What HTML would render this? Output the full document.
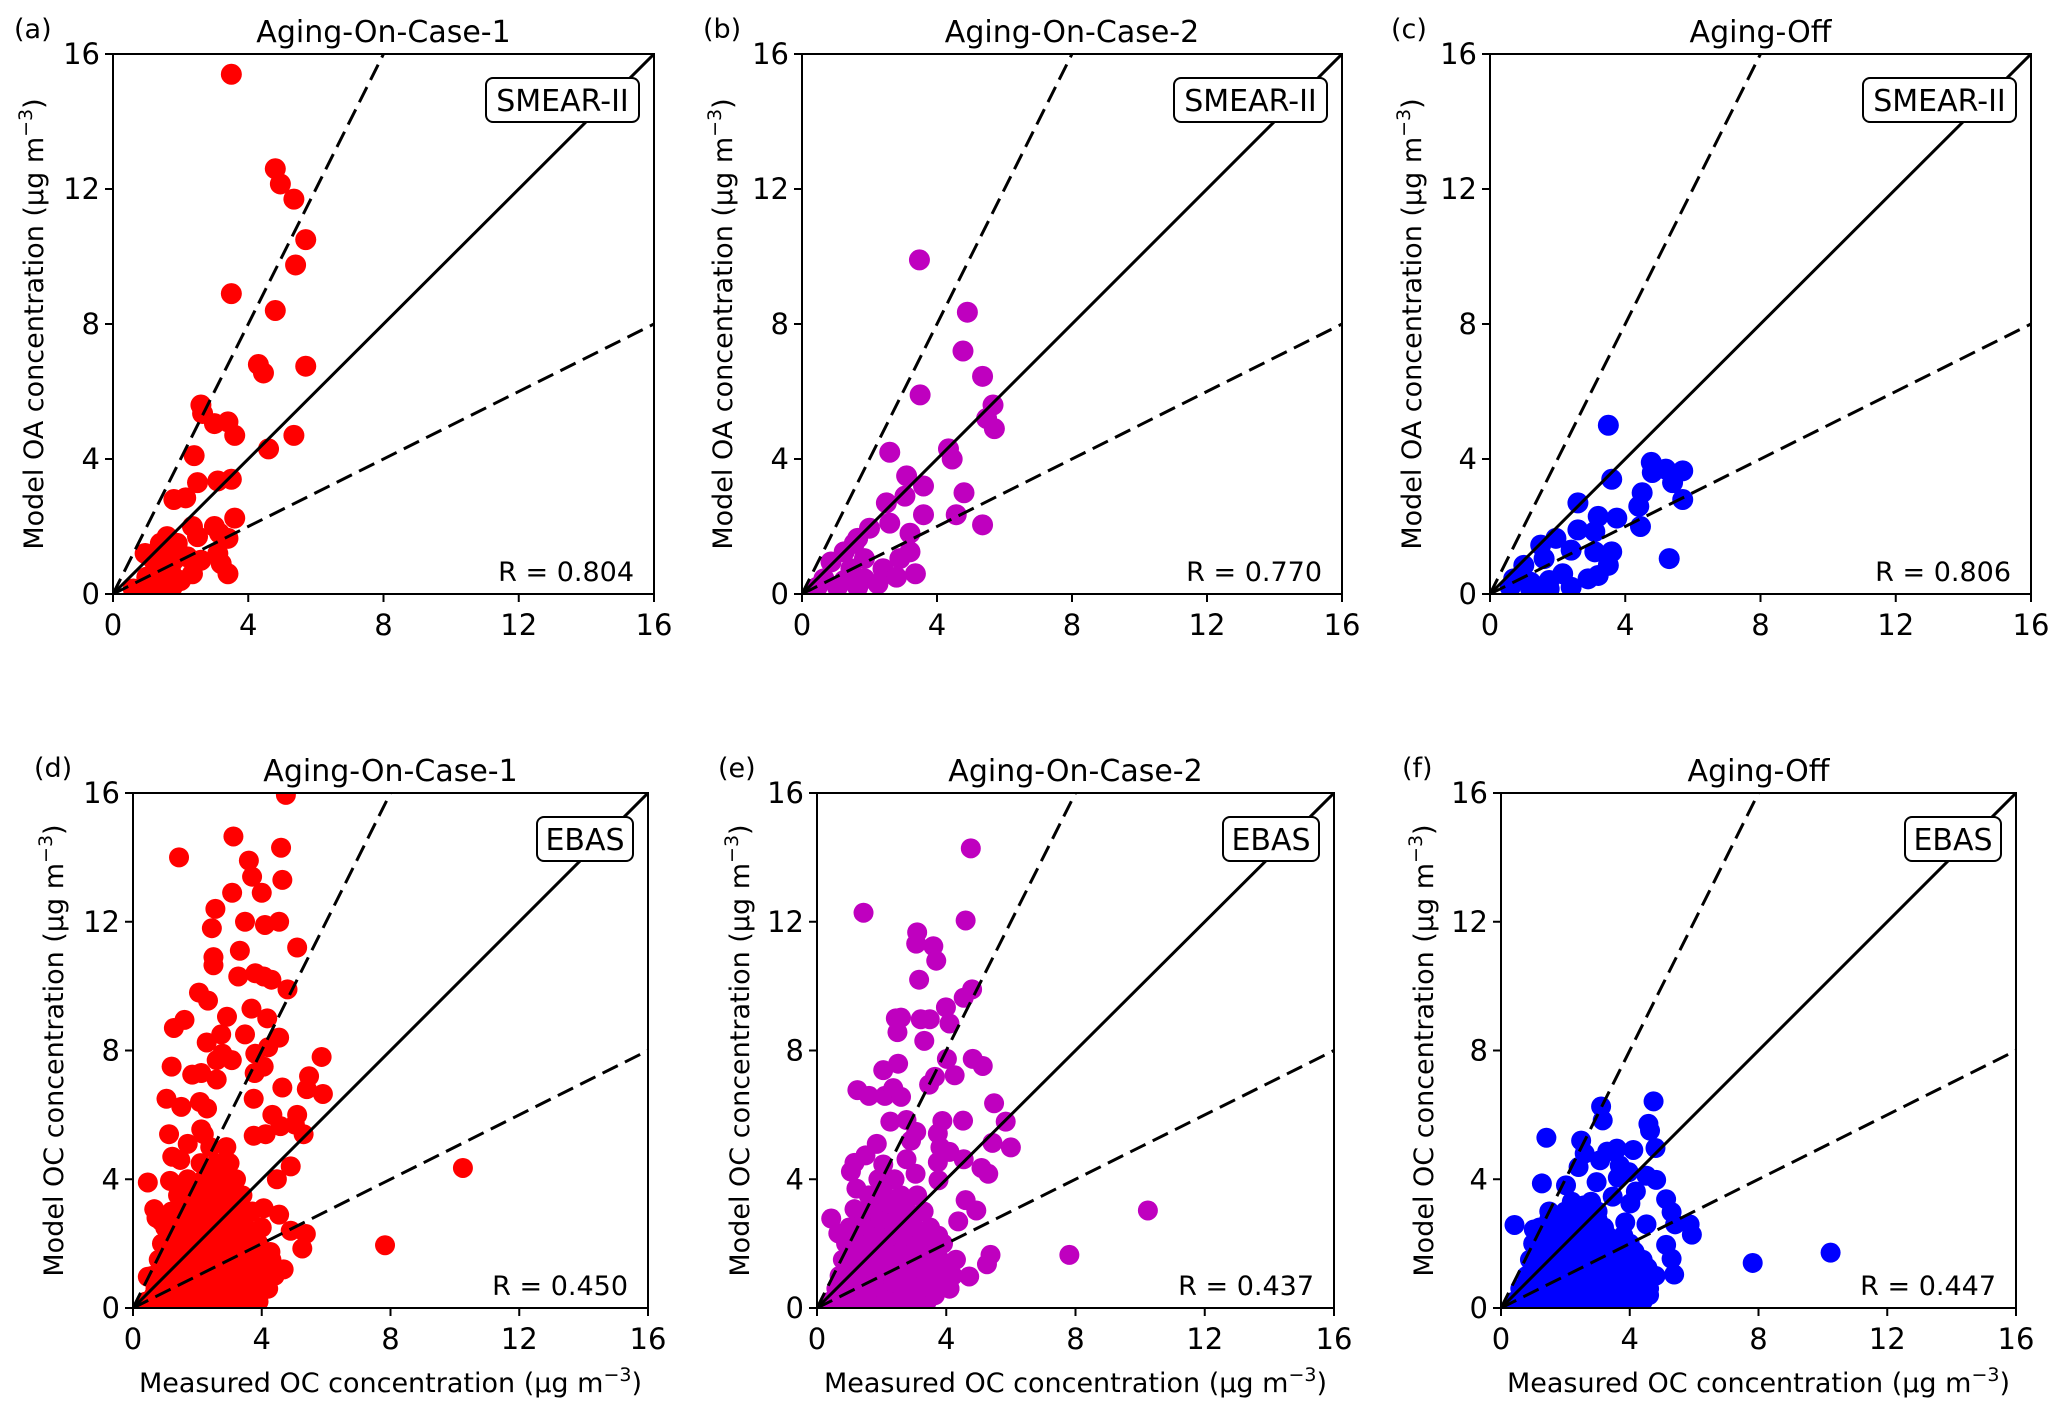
<!DOCTYPE html>
<html><head><meta charset="utf-8"><style>
html,body{margin:0;padding:0;background:#fff;}
svg{display:block;font-family:"DejaVu Sans","Liberation Sans",sans-serif;}
</style></head><body>
<svg id="fig" width="2067" height="1413" viewBox="0 0 2067 1413" xmlns="http://www.w3.org/2000/svg"></svg>
<script>
const ticks = [0, 4, 8, 12, 16];
const tickLabels = ["0", "4", "8", "12", "16"];
const titles = ["Aging-On-Case-1", "Aging-On-Case-2", "Aging-Off", "Aging-On-Case-1", "Aging-On-Case-2", "Aging-Off"];
const letters = ["(a)", "(b)", "(c)", "(d)", "(e)", "(f)"];
const stations = ["SMEAR-II", "SMEAR-II", "SMEAR-II", "EBAS", "EBAS", "EBAS"];
const rValues = ["0.804", "0.770", "0.806", "0.450", "0.437", "0.447"];
const ptsA = [[3.5,15.4],[4.8,12.6],[4.95,12.15],[5.35,11.7],[5.7,10.5],[5.4,9.75],[3.5,8.9],[4.8,8.4],[4.3,6.8],[4.45,6.55],[5.7,6.75],[2.6,5.6],[2.65,5.35],[3.0,5.05],[3.4,5.1],[3.6,4.7],[5.35,4.7],[4.6,4.3],[2.4,4.1],[2.5,3.3],[3.1,3.35],[3.5,3.4],[1.8,2.8],[2.15,2.85],[3.6,2.25],[2.35,2.0],[2.5,1.7],[3.0,2.0],[3.15,1.8],[3.4,1.65],[1.4,1.5],[1.6,1.7],[1.9,1.5],[0.95,1.2],[1.2,1.0],[1.5,1.3],[2.2,1.1],[2.6,1.0],[3.1,1.2],[3.2,0.9],[3.4,0.6],[2.35,0.6],[1.0,0.5],[1.3,0.6],[1.7,0.7],[2.0,0.4],[0.6,0.15],[0.9,0.2],[1.2,0.2],[1.5,0.3],[1.75,0.2],[1.4,0.9],[1.8,1.0]];
const ptsB = [[3.48,9.9],[4.9,8.35],[4.77,7.2],[3.5,5.9],[5.66,5.6],[5.35,6.45],[5.47,5.2],[5.7,4.9],[4.34,4.3],[4.45,4.0],[3.1,3.5],[2.6,4.2],[3.6,3.2],[3.05,2.9],[2.5,2.7],[4.8,3.0],[4.57,2.35],[5.35,2.05],[3.6,2.35],[2.6,2.1],[2.0,1.95],[3.2,1.8],[1.65,1.65],[3.2,1.25],[2.9,1.05],[3.36,0.6],[1.25,1.25],[1.85,1.05],[0.86,0.95],[1.45,0.75],[2.4,0.75],[0.65,0.45],[1.25,0.4],[1.85,0.45],[0.45,0.2],[1.05,0.2],[1.65,0.2],[2.25,0.3],[2.8,0.5],[1.55,1.5]];
const ptsC = [[3.5,5.0],[3.6,3.4],[4.77,3.9],[4.8,3.6],[5.2,3.7],[5.7,3.65],[5.4,3.3],[5.7,2.8],[4.5,3.0],[4.4,2.6],[3.75,2.25],[4.45,2.0],[5.3,1.05],[2.6,2.7],[3.2,2.3],[3.1,1.85],[2.6,1.9],[1.95,1.65],[1.5,1.45],[1.0,0.85],[1.6,1.05],[2.4,1.3],[3.1,1.25],[3.6,1.25],[3.5,0.85],[2.9,0.45],[2.15,0.6],[1.75,0.4],[1.2,0.35],[0.6,0.2],[1.2,0.15],[1.75,0.15],[2.4,0.2],[3.2,0.55],[0.7,0.45]];
const ptsD = [[4.75,15.94],[3.12,14.65],[1.43,14.0],[4.6,14.3],[3.6,13.9],[3.7,13.4],[4.64,13.3],[3.08,12.9],[4.0,12.9],[2.56,12.4],[2.45,11.8],[3.48,12.0],[4.1,11.9],[4.54,12.0],[5.1,11.2],[3.32,11.1],[2.5,10.9],[2.5,10.65],[3.27,10.3],[3.8,10.4],[4.06,10.3],[4.3,10.2],[2.05,9.8],[2.33,9.55],[4.8,9.9],[3.68,9.3],[2.92,9.05],[4.17,9.0],[1.6,8.95],[1.27,8.7],[2.29,8.25],[2.74,8.5],[3.48,8.5],[4.54,8.4],[4.2,8.1],[3.8,7.9],[2.78,7.9],[3.07,7.7],[2.6,7.7],[5.86,7.8],[1.2,7.5],[4.06,7.5],[2.12,7.3],[1.84,7.25],[2.6,7.1],[3.78,7.3],[5.47,7.2],[5.4,6.8],[4.64,6.85],[5.9,6.65],[1.04,6.5],[3.75,6.5],[1.5,6.25],[2.08,6.4],[2.3,6.2],[4.33,6.0],[5.1,6.0],[4.58,5.65],[5.03,5.7],[2.12,5.55],[1.12,5.4],[2.2,5.4],[5.3,5.4],[3.75,5.35],[4.12,5.4],[1.22,4.7],[1.47,4.6],[1.7,5.1],[4.9,4.4],[0.46,3.9],[1.15,3.95],[1.56,3.75],[4.47,4.0],[10.25,4.35],[7.83,1.95],[5.37,2.3],[5.26,1.85],[4.9,2.4],[4.68,1.2],[4.1,0.9],[0.66,3.07],[0.73,2.8],[0.87,2.7],[0.46,0.97],[3.57,0.64],[4.06,3.1],[4.54,2.9],[4.27,1.74],
[0.4,0.2],[0.9,0.2],[1.4,0.2],[1.9,0.2],[2.4,0.2],[2.9,0.2],[3.4,0.2],[3.9,0.2],
[0.7,0.6],[1.2,0.6],[1.7,0.6],[2.2,0.6],[2.7,0.6],[3.2,0.6],[3.7,0.6],[4.2,0.6],
[0.6,1.0],[1.0,1.0],[1.5,1.0],[2.0,1.0],[2.5,1.0],[3.0,1.0],[3.5,1.0],[4.0,1.0],[4.4,1.0],
[0.8,1.5],[1.3,1.5],[1.8,1.5],[2.3,1.5],[2.8,1.5],[3.3,1.5],[3.8,1.5],[4.3,1.5],
[0.9,2.0],[1.4,2.0],[1.9,2.0],[2.4,2.0],[2.9,2.0],[3.4,2.0],[3.9,2.0],
[1.0,2.5],[1.5,2.5],[2.0,2.5],[2.5,2.5],[3.0,2.5],[3.5,2.5],[4.0,2.5],
[1.2,3.0],[1.7,3.0],[2.2,3.0],[2.7,3.0],[3.2,3.0],[3.7,3.0],
[1.4,3.5],[1.9,3.5],[2.4,3.5],[2.9,3.5],[3.4,3.5],
[1.7,4.0],[2.2,4.0],[2.7,4.0],[3.2,4.0],
[2.1,4.5],[2.6,4.5],[3.0,4.5],[2.4,5.0],[2.9,5.0],
[0.65,0.4],[1.15,0.4],[1.65,0.4],[2.15,0.4],[2.65,0.4],[3.15,0.4],[3.65,0.4],
[0.85,0.8],[1.35,0.8],[1.85,0.8],[2.35,0.8],[2.85,0.8],[3.35,0.8],[3.85,0.8],
[1.05,1.25],[1.55,1.25],[2.05,1.25],[2.55,1.25],[3.05,1.25],[3.55,1.25],[4.05,1.25],
[1.15,1.75],[1.65,1.75],[2.15,1.75],[2.65,1.75],[3.15,1.75],[3.65,1.75],[4.1,1.75],
[1.25,2.25],[1.75,2.25],[2.25,2.25],[2.75,2.25],[3.25,2.25],[3.75,2.25],
[1.45,2.75],[1.95,2.75],[2.45,2.75],[2.95,2.75],[3.45,2.75],
[1.7,3.25],[2.2,3.25],[2.7,3.25],[3.2,3.25],[1.95,3.75],[2.5,3.75],[3.0,3.75],[2.4,4.25],[2.9,4.25]];
const ptsE = [[4.76,14.28],[1.44,12.28],[4.6,12.04],[3.1,11.67],[3.07,11.32],[3.6,11.24],[3.69,10.79],[3.16,10.2],[4.8,9.9],[4.54,9.64],[3.99,9.34],[2.44,9.0],[2.6,9.02],[3.21,8.97],[3.49,8.97],[4.1,8.84],[2.49,8.57],[3.32,8.3],[4.82,7.74],[5.13,7.52],[4.02,7.74],[2.51,7.59],[2.05,7.39],[4.26,7.23],[3.65,7.18],[3.47,6.94],[1.25,6.77],[1.61,6.59],[2.1,6.59],[2.36,6.83],[2.6,6.56],[5.48,6.36],[4.52,5.82],[5.84,5.79],[2.27,5.79],[2.77,5.84],[3.88,5.81],[3.07,5.47],[3.74,5.42],[1.85,5.1],[5.43,5.13],[6.0,4.99],[3.82,4.99],[4.1,4.85],[2.91,5.2],[1.5,4.74],[1.16,4.51],[1.05,4.24],[2.05,4.46],[2.77,4.62],[3.74,4.53],[4.54,4.62],[5.09,4.35],[5.3,4.17],[1.22,3.71],[3.05,4.17],[3.76,3.97],[0.44,2.78],[1.16,3.07],[0.66,2.32],[10.24,3.03],[7.81,1.65],[5.26,1.36],[5.37,1.65],[4.93,3.03],[4.6,3.35],[4.37,2.69],[4.71,0.98],[4.1,0.61],[3.65,0.45],
[0.4,0.2],[0.9,0.2],[1.4,0.2],[1.9,0.2],[2.4,0.2],[2.9,0.2],[3.4,0.2],
[0.6,0.6],[1.1,0.6],[1.6,0.6],[2.1,0.6],[2.6,0.6],[3.1,0.6],[3.6,0.6],[4.1,0.6],
[0.7,1.0],[1.2,1.0],[1.7,1.0],[2.2,1.0],[2.7,1.0],[3.2,1.0],[3.7,1.0],[4.2,1.0],
[0.8,1.5],[1.3,1.5],[1.8,1.5],[2.3,1.5],[2.8,1.5],[3.3,1.5],[3.8,1.5],[4.3,1.5],
[0.9,2.0],[1.4,2.0],[1.9,2.0],[2.4,2.0],[2.9,2.0],[3.4,2.0],[3.9,2.0],
[1.0,2.5],[1.5,2.5],[2.0,2.5],[2.5,2.5],[3.0,2.5],[3.5,2.5],
[1.3,3.0],[1.8,3.0],[2.3,3.0],[2.8,3.0],[3.3,3.0],
[1.6,3.5],[2.1,3.5],[2.6,3.5],[3.1,3.5],[1.9,4.0],[2.4,4.0],
[0.65,0.4],[1.15,0.4],[1.65,0.4],[2.15,0.4],[2.65,0.4],[3.15,0.4],[3.65,0.4],
[0.85,0.8],[1.35,0.8],[1.85,0.8],[2.35,0.8],[2.85,0.8],[3.35,0.8],[3.85,0.8],
[1.05,1.25],[1.55,1.25],[2.05,1.25],[2.55,1.25],[3.05,1.25],[3.55,1.25],[4.0,1.25],
[1.15,1.75],[1.65,1.75],[2.15,1.75],[2.65,1.75],[3.15,1.75],[3.65,1.75],
[1.25,2.25],[1.75,2.25],[2.25,2.25],[2.75,2.25],[3.25,2.25],[3.75,2.25],
[1.45,2.75],[1.95,2.75],[2.45,2.75],[2.95,2.75],[1.7,3.25],[2.2,3.25],[2.7,3.25],[2.0,3.75]];
const ptsF = [[4.74,6.42],[3.11,6.26],[3.16,5.83],[4.58,5.72],[4.63,5.51],[1.41,5.29],[2.49,5.2],[2.6,4.8],[2.41,4.38],[3.08,4.59],[3.3,4.86],[3.6,4.95],[4.11,4.91],[4.8,4.97],[3.69,4.43],[3.97,4.22],[3.63,4.05],[4.52,4.11],[4.82,3.98],[1.27,3.87],[2.02,3.81],[2.97,3.91],[4.19,3.62],[4.02,3.25],[5.13,3.38],[5.3,2.98],[5.41,2.6],[5.86,2.6],[5.93,2.28],[3.47,3.46],[2.58,3.19],[0.42,2.58],[1.02,2.44],[1.58,2.92],[7.82,1.4],[10.24,1.72],[5.13,1.96],[5.3,1.53],[5.38,1.04],[4.11,0.29],[4.52,2.6],[3.86,2.66],
[0.4,0.2],[0.9,0.2],[1.4,0.2],[1.9,0.2],[2.4,0.2],[2.9,0.2],[3.4,0.2],[3.9,0.2],[4.4,0.2],
[0.6,0.6],[1.1,0.6],[1.6,0.6],[2.1,0.6],[2.6,0.6],[3.1,0.6],[3.6,0.6],[4.1,0.6],[4.6,0.6],
[0.8,1.0],[1.3,1.0],[1.8,1.0],[2.3,1.0],[2.8,1.0],[3.3,1.0],[3.8,1.0],[4.3,1.0],[4.8,1.0],
[0.9,1.5],[1.4,1.5],[1.9,1.5],[2.4,1.5],[2.9,1.5],[3.4,1.5],[3.9,1.5],[4.4,1.5],
[1.0,2.0],[1.5,2.0],[2.0,2.0],[2.5,2.0],[3.0,2.0],[3.5,2.0],[4.0,2.0],
[1.2,2.5],[1.7,2.5],[2.2,2.5],[2.7,2.5],[3.2,2.5],
[1.5,3.0],[2.0,3.0],[2.5,3.0],[3.0,3.0],
[0.65,0.4],[1.15,0.4],[1.65,0.4],[2.15,0.4],[2.65,0.4],[3.15,0.4],[3.65,0.4],[4.15,0.4],[4.6,0.4],
[0.85,0.8],[1.35,0.8],[1.85,0.8],[2.35,0.8],[2.85,0.8],[3.35,0.8],[3.85,0.8],[4.35,0.8],
[1.05,1.25],[1.55,1.25],[2.05,1.25],[2.55,1.25],[3.05,1.25],[3.55,1.25],[4.05,1.25],[4.55,1.25],
[1.15,1.75],[1.65,1.75],[2.15,1.75],[2.65,1.75],[3.15,1.75],[3.65,1.75],[4.15,1.75],
[1.3,2.25],[1.8,2.25],[2.3,2.25],[2.8,2.25],[3.3,2.25],[3.8,2.25],
[1.5,2.75],[2.0,2.75],[2.5,2.75],[3.0,2.75],[2.2,3.3],[2.8,3.3]];

const NS = "http://www.w3.org/2000/svg";
const svg = document.getElementById("fig");
function mk(tag, attrs, parent) {
  const e = document.createElementNS(NS, tag);
  for (const k in attrs) e.setAttribute(k, attrs[k]);
  (parent || svg).appendChild(e);
  return e;
}
const panels = [
  {L:113, T:54, W:541, H:540, pts:ptsA, color:"#ff0000", ylab:"Model OA concentration", xlab:false, ylx:33},
  {L:802, T:54, W:540, H:540, pts:ptsB, color:"#bf00bf", ylab:"Model OA concentration", xlab:false, ylx:722},
  {L:1490, T:54, W:541, H:540, pts:ptsC, color:"#0000ff", ylab:"Model OA concentration", xlab:false, ylx:1411},
  {L:133, T:793, W:515, H:515, pts:ptsD, color:"#ff0000", ylab:"Model OC concentration", xlab:true, ylx:53},
  {L:817, T:793, W:517, H:515, pts:ptsE, color:"#bf00bf", ylab:"Model OC concentration", xlab:true, ylx:739},
  {L:1501, T:793, W:515, H:515, pts:ptsF, color:"#0000ff", ylab:"Model OC concentration", xlab:true, ylx:1423}
];
const names = ["a","b","c","d","e","f"];
panels.forEach((p, i) => {
  const g = mk("g", {});
  
  
  const xs = v => p.L + v / 16 * p.W;
  const ys = v => p.T + p.H - v / 16 * p.H;
  const cid = "clip" + i;
  const cp = mk("clipPath", {id: cid}, g);
  mk("rect", {x: p.L, y: p.T, width: p.W, height: p.H}, cp);
  const pg = mk("g", {"clip-path": "url(#" + cid + ")"}, g);
  
  
  const r = i < 3 ? 10.5 : 10;
  p.pts.forEach(pt => {
    const c = mk("circle", {cx: xs(pt[0]), cy: ys(pt[1]), r: r, fill: p.color}, pg);
    
    
  });
  const lg = mk("g", {"clip-path": "url(#" + cid + ")"}, g);
  const l1 = mk("line", {x1: xs(0), y1: ys(0), x2: xs(16), y2: ys(16), stroke: "#000", "stroke-width": 3}, lg);
  
  
  const l2 = mk("line", {x1: xs(0), y1: ys(0), x2: xs(8), y2: ys(16), stroke: "#000", "stroke-width": 3, "stroke-dasharray": "17,8"}, lg);
  
  
  const l3 = mk("line", {x1: xs(0), y1: ys(0), x2: xs(16), y2: ys(8), stroke: "#000", "stroke-width": 3, "stroke-dasharray": "17,8"}, lg);
  
  
  const fr = mk("rect", {x: p.L, y: p.T, width: p.W, height: p.H, fill: "none", stroke: "#000", "stroke-width": 2}, g);
  
  
  ticks.forEach((t, k) => {
    mk("line", {x1: xs(t), y1: p.T + p.H, x2: xs(t), y2: p.T + p.H + 8, stroke: "#000", "stroke-width": 2}, g);
    mk("line", {x1: p.L - 8, y1: ys(t), x2: p.L, y2: ys(t), stroke: "#000", "stroke-width": 2}, g);
    const xt = mk("text", {x: xs(t), y: p.T + p.H + 41, "font-size": 29, "text-anchor": "middle"}, g);
    xt.textContent = tickLabels[k];
    
    
    const yt = mk("text", {x: p.L - 13, y: ys(t) + 10, "font-size": 29, "text-anchor": "end"}, g);
    yt.textContent = tickLabels[k];
    
    
  });
  const tt = mk("text", {x: p.L + p.W / 2, y: p.T - 12, "font-size": 30, "text-anchor": "middle"}, g);
  tt.textContent = titles[i];
  
  
  const lt = mk("text", {x: p.L - 99, y: p.T - 16, "font-size": 27}, g);
  lt.textContent = letters[i];
  
  
  const bw = i < 3 ? 153 : 96, bh = 44;
  const bx = p.L + p.W - 15 - bw, by = p.T + 24;
  const bb = mk("rect", {x: bx, y: by, width: bw, height: bh, rx: 7, fill: "#fff", stroke: "#000", "stroke-width": 2}, g);
  
  
  const bt = mk("text", {x: bx + bw / 2, y: by + 33, "font-size": 30, "text-anchor": "middle"}, g);
  bt.textContent = stations[i];
  
  
  const rt = mk("text", {x: p.L + p.W - 20, y: p.T + p.H - 13, "font-size": 27, "text-anchor": "end"}, g);
  rt.textContent = "R = " + rValues[i];
  
  
  const cy = p.T + p.H / 2;
  const yl = mk("text", {x: 0, y: 0, "font-size": 27, "text-anchor": "middle", transform: "translate(" + (p.ylx + 10) + "," + cy + ") rotate(-90)"}, g);
  yl.innerHTML = p.ylab + ' (µg m<tspan font-size="19" dy="-11">−3</tspan><tspan dy="11">)</tspan>';
  
  
  if (p.xlab) {
    const xl = mk("text", {x: p.L + p.W / 2, y: 1392, "font-size": 27, "text-anchor": "middle"}, g);
    xl.innerHTML = 'Measured OC concentration (µg m<tspan font-size="19" dy="-11">−3</tspan><tspan dy="11">)</tspan>';
    
    
  }
});
</script>
</body></html>
